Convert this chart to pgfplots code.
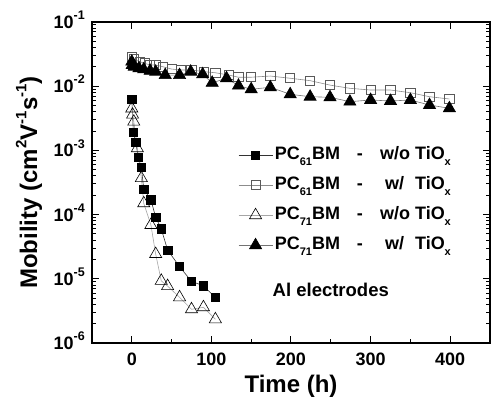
\documentclass[border=0pt]{standalone}
\usepackage{fontspec}
\setmainfont{Liberation Sans}
\usepackage{pgfplots}
\pgfplotsset{compat=1.18}
\newcommand\fs[1]{\fontsize{#1}{#1}\selectfont}
\newcommand\ytl[1]{10\raisebox{0.48em}{\fs{12.5}#1}}
\newcommand\sps[1]{\raisebox{0.45em}{\fs{15}#1}}
\newcommand\sbs[1]{\raisebox{-0.3em}{\fs{11}#1}}
\newcommand\lent[3]{\makebox[70pt][l]{PC\sbs{#1}BM}\makebox[30pt]{-}\makebox[76pt][r]{#2 TiO\sbs{x}}#3}
\begin{document}
\begin{tikzpicture}
\useasboundingbox (-92pt,-56pt) rectangle (399pt,343pt);
\begin{axis}[
  at={(0pt,0pt)}, anchor=south west,
  scale only axis, width=398pt, height=321pt,
  ymode=log,
  xmin=-50, xmax=450, ymin=1e-6, ymax=1e-1,
  xtick={0,100,200,300,400}, minor x tick num=1,
  ytick={1e-6,1e-5,1e-4,1e-3,1e-2,1e-1},
  yticklabels={\ytl{-6},\ytl{-5},\ytl{-4},\ytl{-3},\ytl{-2},\ytl{-1}},
  /pgf/number format/assume math mode=true,
  xticklabel style={font=\bfseries\fs{18}, inner sep=0pt, yshift=-10pt},
  yticklabel style={font=\bfseries\fs{18}, inner sep=0pt, anchor=base east, xshift=-7pt, yshift=-6.4pt},
  major tick length=7pt, minor tick length=4pt,
  every tick/.style={black, line width=1pt},
  axis line style={line width=1.3pt},
  xlabel={Time (h)},
  ylabel={Mobility (cm\sps{2}V\sps{-1}s\sps{-1})},
  every axis x label/.style={at={(axis description cs:0.5,-0.155)}, anchor=base, font=\bfseries\fs{24}},
  every axis y label/.style={at={(axis description cs:-0.138,0.5)}, anchor=base, rotate=90, font=\bfseries\fs{24}},
  legend style={at={(axis description cs:0.367,0.612)}, anchor=north west, draw=none, fill=none,
    font=\bfseries\fs{18}, inner sep=0pt, row sep=13pt,
    nodes={inner ysep=0pt, text height=13pt, text depth=4pt}},
  legend cell align=left,
  legend image code/.code={\draw[mark repeat=2,mark phase=2] plot coordinates {(0pt,0pt) (17pt,0pt) (34pt,0pt)};},
]
\addplot[black!80, line width=0.6pt, mark=square*, mark size=4.2pt, mark options={solid, fill=black, draw=black}] coordinates {
(0,6.2e-3) (2,1.9e-3) (5,1.35e-3) (8,7.8e-4) (12,5.4e-4) (15,2.5e-4) (24,1.7e-4) (30,9.1e-5) (37,6.0e-5) (45,2.8e-5) (60,1.55e-5) (75,9.1e-6) (90,7.8e-6) (105,5.1e-6)};
\addlegendentry{\lent{61}{w/o}{}}
\addplot[black!45, line width=0.6pt, mark=square, mark size=4.6pt, mark options={solid, fill=white, draw=black!65, line width=0.8pt}] coordinates {
(0,2.88e-2) (3,2.62e-2) (10,2.41e-2) (16,2.27e-2) (23,2.14e-2) (30,2.14e-2) (39,2.01e-2) (50,1.85e-2) (62,1.79e-2) (75,1.79e-2) (91,1.68e-2) (105,1.62e-2) (122,1.49e-2) (134,1.38e-2) (150,1.38e-2) (174,1.44e-2) (199,1.33e-2) (224,1.22e-2) (249,1.04e-2) (274,9.27e-3) (300,8.72e-3) (325,8.72e-3) (350,7.92e-3) (374,6.86e-3) (399,6.32e-3)};
\addlegendentry{\lent{61}{w/\hspace{6pt}}{}}
\addplot[black!35, line width=0.6pt, mark=triangle, mark size=7pt, mark options={solid, fill=white, draw=black, line width=0.6pt}] coordinates {
(0,4.5e-3) (1,3.6e-3) (2.5,2.8e-3) (7,1.08e-3) (12,3.7e-4) (15,1.5e-4) (24,6.9e-5) (30,2.43e-5) (37,9.3e-6) (45,7.7e-6) (60,5.15e-6) (75,3.35e-6) (90,3.6e-6) (105,2.34e-6)};
\addlegendentry{\lent{71}{w/o}{}}
\addplot[black!55, line width=0.6pt, mark=triangle*, mark size=7pt, mark options={solid, fill=black, draw=black}] coordinates {
(0,2.41e-2) (0.5,2.14e-2) (3,2.01e-2) (9,1.90e-2) (15,1.83e-2) (23,1.74e-2) (30,1.68e-2) (42,1.49e-2) (60,1.49e-2) (74,1.68e-2) (89,1.53e-2) (101,1.13e-2) (119,1.33e-2) (134,1.02e-2) (150,8.95e-3) (174,9.62e-3) (199,7.48e-3) (224,6.86e-3) (249,6.72e-3) (274,5.74e-3) (300,6.10e-3) (325,5.88e-3) (350,6.10e-3) (374,5.09e-3) (399,4.53e-3)};
\addlegendentry{\lent{71}{w/\hspace{6pt}}{}}
\node[anchor=base, font=\bfseries\fs{18.5}, inner sep=0pt] at (axis description cs:0.600,0.146) {Al electrodes};
\end{axis}
\end{tikzpicture}
\end{document}
